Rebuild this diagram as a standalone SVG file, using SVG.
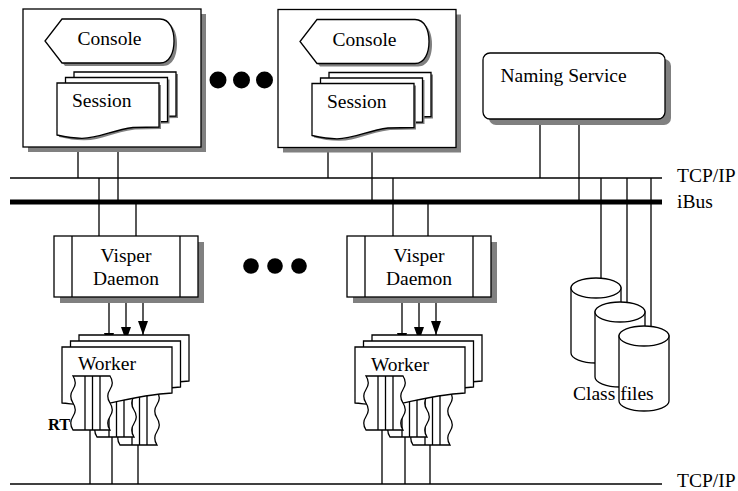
<svg xmlns="http://www.w3.org/2000/svg" xmlns:xlink="http://www.w3.org/1999/xlink" width="738" height="491" viewBox="0 0 738 491">
  <style>
    .ln { stroke: #000; stroke-width: 1.3; fill: none; }
    .bus { stroke: #000; stroke-width: 5; fill: none; }
    .box { fill: #fff; stroke: #000; stroke-width: 1.3; }
    .sh { fill: #808080; stroke: none; }
    .dot { fill: #000; }
    .lbl { font-family: "Liberation Serif", "Times New Roman", serif; font-size: 19.5px; fill: #000; }
    .mid { text-anchor: middle; }
    .bold { font-weight: bold; font-size: 16.5px; }
  </style>
  <defs>
    <marker id="arrow" viewBox="0 0 14 10" refX="14" refY="5" markerWidth="14" markerHeight="10" markerUnits="userSpaceOnUse" orient="auto">
      <path d="M0,0 L14,5 L0,10 Z" fill="#000"/>
    </marker>
    <!-- console: arrow-pointed display shape -->
    <path id="consoleShape" d="M62,19 H160 C170,19 174,30 174,41 C174,52 170,63 160,63 H62 L45,41 Z"/>
    <!-- document with wavy bottom edge (session) -->
    <path id="sessionDoc" d="M0,0 H102 V44 L76,44.5 C55,47 43,55.3 25,55.3 C16,55.3 9,54 0,52 Z"/>
    <!-- document with wavy bottom edge (worker) -->
    <path id="workerDoc" d="M0,0 H110 V46 C88,47 66,52 46,56.5 C28,60 13,57 0,56 Z"/>
    <!-- run-time tape with wavy sides and stripes -->
    <g id="rt">
      <path class="box" d="M0,0 H37 C40,4.5 40,9 37,13.5 C34,18 34,22.5 37,27 C40,31.5 40,36 37,40.5 C34,45 34,49.5 37,54 H0 C-3,49.5 -3,45 0,40.5 C3,36 3,31.5 0,27 C-3,22.5 -3,18 0,13.5 C3,9 3,4.5 0,0 Z"/>
      <path class="ln" d="M12,0 V54 M19.5,0 V54 M27,0 V54"/>
    </g>
    <!-- disk cylinder, origin at centre of top ellipse -->
    <g id="cyl">
      <path class="box" d="M-25,0 V65 A25,10 0 0 0 25,65 V0 Z"/>
      <ellipse class="box" cx="0" cy="0" rx="25" ry="10"/>
    </g>
  </defs>

  <!-- network lines and links -->
  <g id="connectors">
    <path class="ln" d="M10,178 H662"/>
    <path class="bus" d="M10,202 H662"/>
    <path class="ln" d="M10,484 H662"/>

    <path class="ln" d="M78,147 V178 M118,147 V200 M99,178 V236 M136,204 V236"/>
    <path class="ln" d="M328,148 V178 M372,148 V200 M393,178 V236 M428,204 V236"/>
    <path class="ln" d="M540,119 V178 M579,119 V200"/>
    <path class="ln" d="M601,178 V278.3 M627,178 V302.4 M651,178 V326.4"/>

    <path class="ln" d="M109,297 V347" marker-end="url(#arrow)"/>
    <path class="ln" d="M126,297 V341" marker-end="url(#arrow)"/>
    <path class="ln" d="M143,297 V335" marker-end="url(#arrow)"/>
    <path class="ln" d="M402,297 V347" marker-end="url(#arrow)"/>
    <path class="ln" d="M419,297 V341" marker-end="url(#arrow)"/>
    <path class="ln" d="M436,297 V335" marker-end="url(#arrow)"/>

    <path class="ln" d="M90,430 V484 M112,437 V484 M138,445 V484"/>
    <path class="ln" d="M382,430 V484 M405,437 V484 M430,445 V484"/>
  </g>

  <!-- client host 1 -->
  <g id="host1">
    <rect class="sh" x="28" y="14" width="178" height="138"/>
    <rect class="box" x="23" y="9" width="178" height="138"/>
    <g id="console1">
      <use xlink:href="#consoleShape" class="sh" transform="translate(3,3)"/>
      <use xlink:href="#consoleShape" class="box"/>
      <text class="lbl mid" x="109.5" y="45">Console</text>
    </g>
    <g id="session1">
      <use xlink:href="#sessionDoc" class="sh" transform="translate(76,74)"/>
      <use xlink:href="#sessionDoc" class="box" transform="translate(74,72)"/>
      <use xlink:href="#sessionDoc" class="sh" transform="translate(67.5,79.5)"/>
      <use xlink:href="#sessionDoc" class="box" transform="translate(65.5,77.5)"/>
      <use xlink:href="#sessionDoc" class="sh" transform="translate(59,85)"/>
      <use xlink:href="#sessionDoc" class="box" transform="translate(57,83)"/>
      <text class="lbl" x="72" y="107">Session</text>
    </g>
  </g>

  <!-- client host 2 -->
  <g id="host2" transform="translate(255,0.5)">
    <rect class="sh" x="28" y="14" width="178" height="138"/>
    <rect class="box" x="23" y="9" width="178" height="138"/>
    <g id="console2">
      <use xlink:href="#consoleShape" class="sh" transform="translate(3,3)"/>
      <use xlink:href="#consoleShape" class="box"/>
      <text class="lbl mid" x="109.5" y="45">Console</text>
    </g>
    <g id="session2">
      <use xlink:href="#sessionDoc" class="sh" transform="translate(76,74)"/>
      <use xlink:href="#sessionDoc" class="box" transform="translate(74,72)"/>
      <use xlink:href="#sessionDoc" class="sh" transform="translate(67.5,79.5)"/>
      <use xlink:href="#sessionDoc" class="box" transform="translate(65.5,77.5)"/>
      <use xlink:href="#sessionDoc" class="sh" transform="translate(59,85)"/>
      <use xlink:href="#sessionDoc" class="box" transform="translate(57,83)"/>
      <text class="lbl" x="72" y="107">Session</text>
    </g>
  </g>

  <!-- ellipsis between hosts -->
  <g id="dotsTop">
    <circle class="dot" cx="218" cy="80" r="8.5"/>
    <circle class="dot" cx="241.5" cy="80" r="8.5"/>
    <circle class="dot" cx="264.5" cy="80" r="8.5"/>
  </g>

  <!-- naming service -->
  <g id="naming">
    <rect class="sh" x="489" y="59" width="182" height="66" rx="7"/>
    <rect class="box" x="483" y="53" width="182" height="66" rx="7"/>
    <text class="lbl" x="500.5" y="82">Naming Service</text>
  </g>

  <!-- daemons -->
  <g id="daemon1">
    <rect class="sh" x="60" y="242" width="144" height="61"/>
    <rect class="box" x="54" y="236" width="144" height="61"/>
    <path class="ln" d="M72,236 V297 M180,236 V297"/>
    <text class="lbl mid" x="126" y="262">Visper</text>
    <text class="lbl mid" x="126" y="285">Daemon</text>
  </g>
  <g id="daemon2" transform="translate(293,0)">
    <rect class="sh" x="60" y="242" width="144" height="61"/>
    <rect class="box" x="54" y="236" width="144" height="61"/>
    <path class="ln" d="M72,236 V297 M180,236 V297"/>
    <text class="lbl mid" x="126" y="262">Visper</text>
    <text class="lbl mid" x="126" y="285">Daemon</text>
  </g>

  <g id="dotsMid">
    <circle class="dot" cx="251" cy="266" r="7.8"/>
    <circle class="dot" cx="275" cy="266" r="7.8"/>
    <circle class="dot" cx="299" cy="266" r="7.8"/>
  </g>

  <!-- worker stacks with their run-time tapes -->
  <g id="workers1">
    <use xlink:href="#workerDoc" class="box" transform="translate(79,335)"/>
    <use xlink:href="#rt" transform="translate(120,391)"/>
    <use xlink:href="#workerDoc" class="box" transform="translate(70.5,341)"/>
    <use xlink:href="#rt" transform="translate(97,383)"/>
    <use xlink:href="#workerDoc" class="box" transform="translate(62,347)"/>
    <use xlink:href="#rt" transform="translate(73,376)"/>
    <text class="lbl" x="78" y="370">Worker</text>
    <text class="lbl bold" x="48" y="430">RT</text>
  </g>
  <g id="workers2" transform="translate(293,0)">
    <use xlink:href="#workerDoc" class="box" transform="translate(79,335)"/>
    <use xlink:href="#rt" transform="translate(120,391)"/>
    <use xlink:href="#workerDoc" class="box" transform="translate(70.5,341)"/>
    <use xlink:href="#rt" transform="translate(97,383)"/>
    <use xlink:href="#workerDoc" class="box" transform="translate(62,347)"/>
    <use xlink:href="#rt" transform="translate(73,376)"/>
    <text class="lbl" x="78" y="371">Worker</text>
  </g>

  <!-- class file storage -->
  <g id="classFiles">
    <use xlink:href="#cyl" transform="translate(596,288)"/>
    <use xlink:href="#cyl" transform="translate(620,312)"/>
    <use xlink:href="#cyl" transform="translate(644,336)"/>
    <text class="lbl" x="573" y="400">Class files</text>
  </g>

  <!-- network labels -->
  <g id="netLabels">
    <text class="lbl" x="677" y="182">TCP/IP</text>
    <text class="lbl" x="677" y="208">iBus</text>
    <text class="lbl" x="677" y="486.5">TCP/IP</text>
  </g>
</svg>
